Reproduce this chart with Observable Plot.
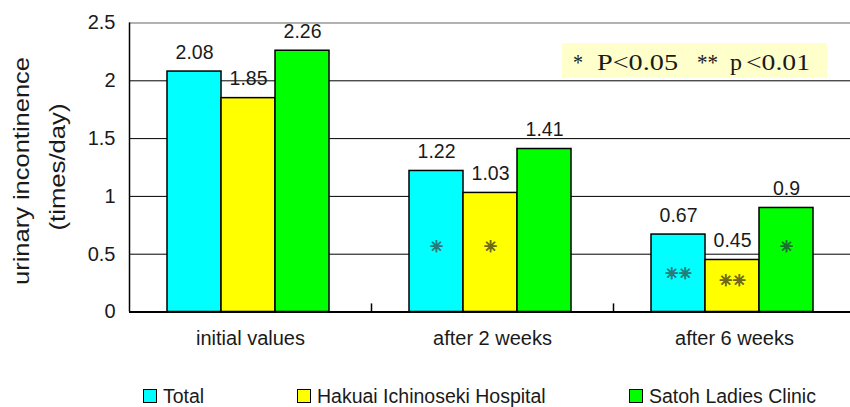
<!DOCTYPE html>
<html><head><meta charset="utf-8">
<script src="https://cdn.jsdelivr.net/npm/d3@7"></script>
<script src="https://cdn.jsdelivr.net/npm/@observablehq/plot@0.6"></script>
<style>
body{margin:0;overflow:hidden;background:#fff;font-family:'Liberation Sans',Arial,sans-serif;}
#wrap{position:relative;width:850px;height:407px;overflow:hidden;background:#fff}
#chart{width:855px}
#legend{position:absolute;left:0;top:385px;width:850px;height:22px}
.item{position:absolute;top:0;display:flex;align-items:center;height:22px;font-size:19.5px;color:#1a1a1a;line-height:22px;white-space:nowrap}
.sw{width:14px;height:14px;border:1px solid #000;margin-right:6px;box-sizing:border-box}
</style></head><body><div id="wrap"><div id="chart"></div><div id="legend"></div></div>
<script>
const categories = ["initial values", "after 2 weeks", "after 6 weeks"];
const series = ["Total", "Hakuai Ichinoseki Hospital", "Satoh Ladies Clinic"];
const totalValues = [2.08, 1.22, 0.67];
const hakuaiValues = [1.85, 1.03, 0.45];
const satohValues = [2.26, 1.41, 0.9];
const totalSig = ["", "*", "**"];
const hakuaiSig = ["", "*", "**"];
const satohSig = ["", "", "*"];
const totalStarY = [null, 0.56, 0.33];
const hakuaiStarY = [null, 0.56, 0.27];
const satohStarY = [null, null, 0.56];
const yTicks = [0, 0.5, 1, 1.5, 2, 2.5];
const yTitle = ["urinary incontinence", "(times/day)"];
const noteParts = ["*", "P<0.05", "**", "p", "<0.01"];

const colors = ["#00ffff", "#ffff00", "#00ff00"];
const starColors = ["#2b7a7a", "#6f6a18", "#1a7030"];
const valuesBySeries = [totalValues, hakuaiValues, satohValues];
const sigBySeries = [totalSig, hakuaiSig, satohSig];
const starYBySeries = [totalStarY, hakuaiStarY, satohStarY];

const rows = series.flatMap((s, i) => categories.map((c, j) => ({
  series: s, si: i, category: c,
  value: valuesBySeries[i][j],
  sig: sigBySeries[i][j],
  starY: starYBySeries[i][j]
})));

const barW = 54, half = 121, shift = -2;
const marks = [
  Plot.ruleY(yTicks.filter(d => d > 0 && d < 2.5), {stroke: "#000", strokeWidth: 1}),
  Plot.ruleY([2.5], {stroke: "#999", strokeWidth: 1.5}),
];
series.forEach((s, i) => {
  const data = rows.filter(d => d.si === i);
  const dx = (i - 1) * barW + shift;
  marks.push(Plot.barY(data, {x: "category", y: "value", fill: colors[i], stroke: "#000", strokeWidth: 1.5, insetLeft: half - barW / 2, insetRight: half - barW / 2, dx}));
});
series.forEach((s, i) => {
  const data = rows.filter(d => d.si === i);
  const dx = (i - 1) * barW + shift;
  marks.push(Plot.text(data, {x: "category", y: "value", text: d => String(d.value), dx, dy: -19, fontSize: 19.5, fill: "#1a1a1a"}));
  marks.push(Plot.text(data.filter(d => d.sig), {x: "category", y: "starY", text: d => d.sig.replace(/\*/g, "✳"), dx, fontSize: 16, fontFamily: "DejaVu Sans", fill: starColors[i], stroke: starColors[i], strokeWidth: 0.9}));
});
marks.push(
  Plot.ruleX([categories[0]], {x: d => d, dx: -half, y1: 0, y2: 2.5, stroke: "#000", strokeWidth: 1.5}),
  Plot.ruleX(categories.slice(1), {x: d => d, dx: -half, y1: 0, y2: 0.07, stroke: "#000", strokeWidth: 1.5}),
  Plot.ruleY([0], {stroke: "#000", strokeWidth: 2}),
  Plot.axisY({ticks: yTicks, tickSize: 0, tickPadding: 14, tickFormat: d => String(d), label: null}),
  Plot.axisX({tickSize: 0, tickPadding: 19, label: null})
);

const plot = Plot.plot({
  width: 855, height: 360,
  marginLeft: 129, marginRight: 0, marginTop: 22.5, marginBottom: 48.5,
  x: {domain: categories, padding: 0},
  y: {domain: [0, 2.5]},
  style: {fontFamily: "'Liberation Sans', Arial, sans-serif", fontSize: "20px", color: "#1a1a1a", background: "white", maxWidth: "none", overflow: "visible"},
  marks
});
document.getElementById("chart").appendChild(plot);

const svg = d3.select(plot);
svg.append("text").attr("transform", "translate(29,171) rotate(-90)").attr("text-anchor", "middle")
  .attr("font-size", 22).attr("fill", "#1a1a1a").attr("textLength", 228).attr("lengthAdjust", "spacingAndGlyphs").text(yTitle[0]);
svg.append("text").attr("transform", "translate(65,167) rotate(-90)").attr("text-anchor", "middle")
  .attr("font-size", 22).attr("fill", "#1a1a1a").attr("textLength", 127).attr("lengthAdjust", "spacingAndGlyphs").text(yTitle[1]);
svg.append("rect").attr("x", 562).attr("y", 43).attr("width", 265).attr("height", 35).attr("fill", "#ffffcc");
const noteX = [573, 597, 697, 730, 746];
const noteLen = [10, 81, 21, 12, 64];
noteParts.forEach((t, k) => {
  svg.append("text").attr("x", noteX[k]).attr("y", 70).attr("text-anchor", "start")
    .attr("font-family", "'Liberation Serif', 'Times New Roman', serif")
    .attr("font-size", 23).attr("fill", "#1a1a1a")
    .attr("textLength", noteLen[k]).attr("lengthAdjust", "spacingAndGlyphs").text(t);
});

const legendLeft = [143, 297, 629];
const legend = document.getElementById("legend");
series.forEach((s, i) => {
  const it = document.createElement("div");
  it.className = "item";
  it.style.left = legendLeft[i] + "px";
  const sw = document.createElement("span");
  sw.className = "sw";
  sw.style.background = colors[i];
  const tx = document.createElement("span");
  tx.textContent = s;
  it.appendChild(sw); it.appendChild(tx);
  legend.appendChild(it);
});
</script></body></html>
